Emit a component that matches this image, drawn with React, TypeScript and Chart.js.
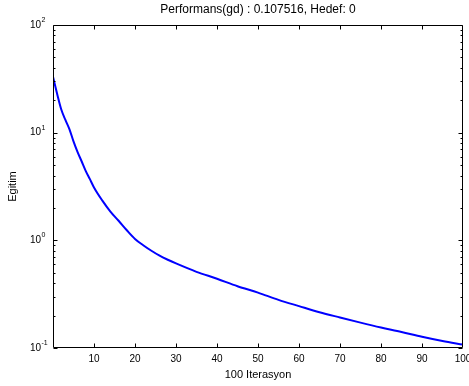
import React, { useEffect, useRef } from "react";
import { Chart, registerables } from "chart.js";

Chart.register(...registerables);

const epochs = [0, 1, 2, 3, 4, 5, 6, 7, 8, 9, 10, 12, 14, 16, 18, 20, 22, 24, 26, 28, 30, 35, 40, 45, 50, 55, 60, 65, 70, 75, 80, 85, 90, 95, 100];
const performance = [33, 23, 16.5, 13.2, 10.8, 8.3, 6.6, 5.4, 4.4, 3.7, 3.1, 2.35, 1.85, 1.52, 1.24, 1.03, 0.9, 0.8, 0.72, 0.66, 0.61, 0.51, 0.44, 0.375, 0.327, 0.28, 0.245, 0.215, 0.192, 0.172, 0.155, 0.141, 0.127, 0.116, 0.107516];
const xTicks = [10, 20, 30, 40, 50, 60, 70, 80, 90];
const yExponents = [-1, 0, 1, 2];
const titleText = "Performans(gd) : 0.107516, Hedef: 0";
const xTitle = "100 Iterasyon";
const yTitle = "Egitim";

const FONT = '"Liberation Sans", Arial, Helvetica, sans-serif';

const axesPlugin = {
  id: "matlabAxes",
  afterDraw(chart: any) {
    const { ctx, chartArea, scales } = chart;
    const { left, right, top, bottom } = chartArea;
    const x = scales.x;
    const y = scales.y;
    ctx.save();
    ctx.strokeStyle = "#000";
    ctx.lineWidth = 1;
    const L = Math.round(left) + 0.5;
    const R = Math.round(right) - 0.5;
    const T = Math.round(top) + 0.5;
    const B = Math.round(bottom) - 0.5;
    ctx.beginPath();
    ctx.rect(L, T, R - L, B - T);
    ctx.stroke();
    ctx.beginPath();
    for (const v of xTicks) {
      const px = Math.round(x.getPixelForValue(v)) + 0.5;
      ctx.moveTo(px, B);
      ctx.lineTo(px, B - 4);
      ctx.moveTo(px, T);
      ctx.lineTo(px, T + 4);
    }
    for (const e of yExponents) {
      for (let k = 1; k <= 9; k++) {
        const val = k * Math.pow(10, e);
        if (val < y.min - 1e-12 || val > y.max + 1e-9) continue;
        const py = Math.round(y.getPixelForValue(val)) + 0.5;
        const len = k === 1 ? 4 : 2;
        ctx.moveTo(L, py);
        ctx.lineTo(L + len, py);
        ctx.moveTo(R, py);
        ctx.lineTo(R - len, py);
      }
    }
    ctx.stroke();
    // y tick labels with superscript exponents
    ctx.fillStyle = "#000";
    for (const e of yExponents) {
      const py = y.getPixelForValue(Math.pow(10, e));
      ctx.font = `10px ${FONT}`;
      ctx.textAlign = "right";
      ctx.textBaseline = "middle";
      ctx.fillText("10", left - 12, py);
      ctx.font = `7px ${FONT}`;
      ctx.textAlign = "left";
      ctx.fillText(String(e), left - 11.5, py - 5);
    }
    ctx.restore();
  },
};

export default function App() {
  const ref = useRef<HTMLCanvasElement | null>(null);
  useEffect(() => {
    document.body.style.margin = "0";
    const canvas = ref.current;
    if (!canvas) return;
    const chart = new Chart(canvas, {
      type: "line",
      data: {
        datasets: [
          {
            data: epochs.map((e, i) => ({ x: e, y: performance[i] })),
            borderColor: "#0000ff",
            borderWidth: 2,
            pointRadius: 0,
            fill: false,
            cubicInterpolationMode: "monotone",
          },
        ],
      },
      options: {
        animation: false,
        responsive: false,
        maintainAspectRatio: false,
        layout: { padding: { left: 0, right: 6, top: 0, bottom: 0 } },
        plugins: {
          legend: { display: false },
          tooltip: { enabled: false },
          title: {
            display: true,
            text: titleText,
            fullSize: false,
            color: "#000",
            font: { family: FONT, size: 12, weight: "normal" },
            padding: { top: 2, bottom: 8.6 },
          },
        },
        scales: {
          x: {
            type: "linear",
            min: 0,
            max: 100,
            grid: { display: false, drawTicks: false },
            border: { display: false },
            ticks: {
              stepSize: 10,
              autoSkip: false,
              maxRotation: 0,
              padding: 5,
              color: "#000",
              font: { family: FONT, size: 10 },
              callback: (v: any) => (v === 0 ? "" : String(v)),
            },
            title: {
              display: true,
              text: xTitle,
              color: "#000",
              font: { family: FONT, size: 11 },
              padding: { top: 0, bottom: 4 },
            },
            afterFit: (s: any) => {
              s.height = 38;
              s.paddingLeft = 0;
              s.paddingRight = 0;
            },
          },
          y: {
            type: "logarithmic",
            min: 0.1,
            max: 100,
            grid: { display: false },
            border: { display: false },
            ticks: { display: false },
            title: {
              display: true,
              text: yTitle,
              color: "#000",
              font: { family: FONT, size: 11 },
              padding: { top: 6, bottom: 0 },
            },
            afterFit: (s: any) => {
              s.width = 53;
            },
          },
        },
      },
      plugins: [axesPlugin],
    } as any);
    return () => chart.destroy();
  }, []);
  return <canvas ref={ref} width={469} height={386} style={{ display: "block" }} />;
}
